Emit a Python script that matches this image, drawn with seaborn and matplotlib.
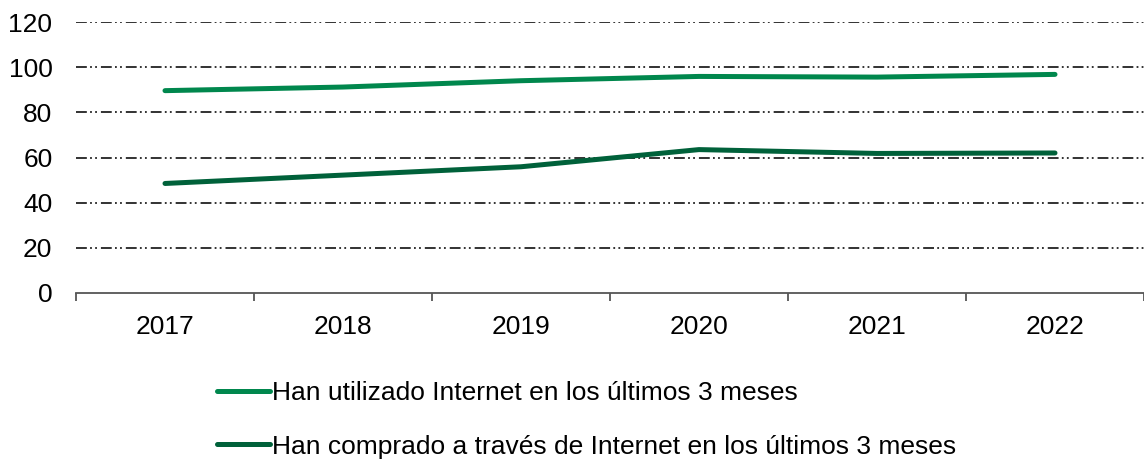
import matplotlib
matplotlib.use("Agg")
import matplotlib.pyplot as plt
import seaborn as sns
import pandas as pd
import numpy as np
from matplotlib.lines import Line2D

years = ["2017", "2018", "2019", "2020", "2021", "2022"]
utilizado = [89.6, 91.2, 94.0, 95.9, 95.6, 96.8]
comprado = [48.5, 52.2, 55.9, 63.5, 61.8, 62.0]
series_names = ["Han utilizado Internet en los últimos 3 meses",
                "Han comprado a través de Internet en los últimos 3 meses"]
colors = ["#00874D", "#00613A"]
yticks = [0, 20, 40, 60, 80, 100, 120]

sns.set_theme(style="white")
plt.rcParams['font.family'] = ['Liberation Sans', 'DejaVu Sans']
plt.rcParams['text.color'] = '#000000'

df = pd.DataFrame({
    "year": years * 2,
    "value": utilizado + comprado,
    "serie": [series_names[0]] * len(years) + [series_names[1]] * len(years),
})

fig = plt.figure(figsize=(11.44, 4.62), dpi=100)
ax = fig.add_axes([76 / 1144, 1 - 293 / 462, 1 - 76 / 1144, (293 - 22) / 462])

sns.lineplot(data=df, x="year", y="value", hue="serie", palette=colors,
             linewidth=3.6, ax=ax, legend=False, sort=False,
             solid_capstyle="round")

ax.set_ylim(0, 120)
ax.set_xlim(-0.5, 5.5)
ax.set_yticks(yticks)
ax.set_yticklabels([str(v) for v in yticks])
ax.set_xlabel("")
ax.set_ylabel("")

for v in yticks[1:]:
    ax.axhline(v, color="#222222", linewidth=1.3, zorder=0,
               dashes=(6.0, 1.8, 1.0, 1.8, 1.0, 2.2))

for s in ["left", "right", "top"]:
    ax.spines[s].set_visible(False)
ax.spines["bottom"].set_color("#555555")
ax.spines["bottom"].set_linewidth(1.3)

ax.set_xticks(np.arange(-0.5, 6.0, 1.0), minor=True)
ax.tick_params(axis="x", which="minor", length=6, width=1.3, color="#555555", direction="out", bottom=True)
ax.tick_params(axis="x", which="major", length=0, pad=16, labelsize=19, colors="#000000")
ax.tick_params(axis="y", which="major", length=0, pad=17, labelsize=19, colors="#000000")

handles = [Line2D([0], [0], color=c, linewidth=3.6, solid_capstyle="round") for c in colors]
leg = fig.legend(handles, series_names, loc="upper left", bbox_to_anchor=(217 / 1144, 1 - 381 / 462),
                 frameon=False, fontsize=19, handlelength=2.0, handletextpad=0.1,
                 labelspacing=1.12, borderpad=0, borderaxespad=0)
for t in leg.get_texts():
    t.set_color("#000000")

fig.savefig("out.png", dpi=100)
